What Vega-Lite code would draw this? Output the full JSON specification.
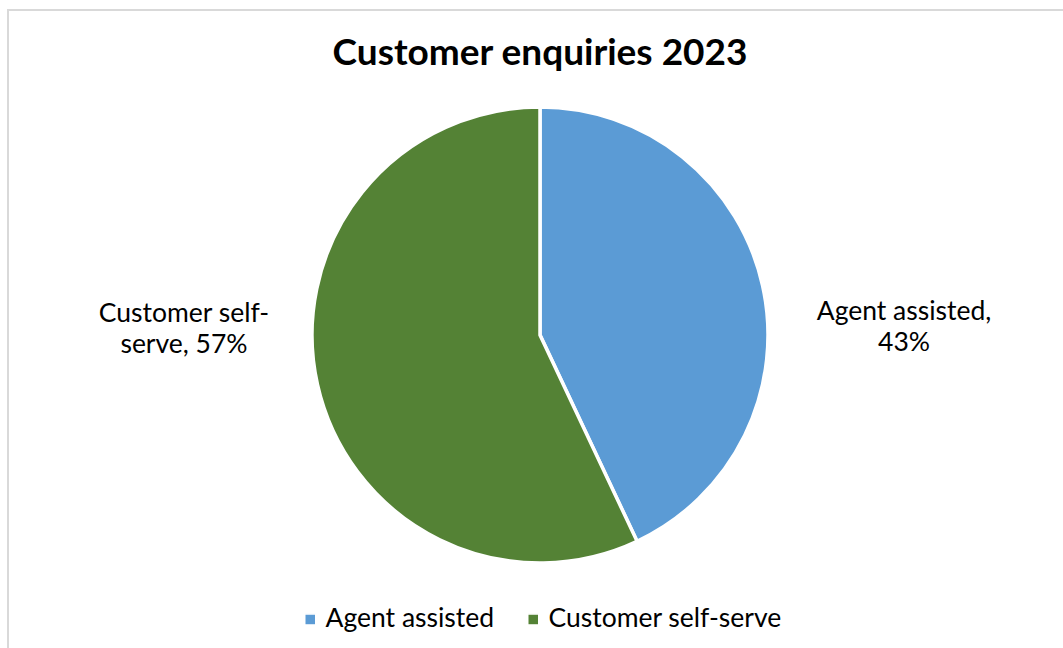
{
  "$schema": "https://vega.github.io/schema/vega-lite/v6.json",
  "autosize": "none",
  "width": 1064,
  "height": 650,
  "padding": {"left": 8, "top": 10, "right": 0, "bottom": 0},
  "background": "white",
  "title": {
    "text": "Customer enquiries 2023",
    "font": "Lato",
    "fontSize": 37,
    "fontWeight": "bold",
    "color": "#000000",
    "anchor": "middle",
    "dy": 68
  },
  "data": {
    "values": [
      {"category": "Agent assisted", "share": 43, "order": 1, "label": "Agent assisted,\n43%"},
      {"category": "Customer self-serve", "share": 57, "order": 2, "label": "Customer self-\nserve, 57%"}
    ]
  },
  "layer": [
    {
      "mark": {"type": "rect", "fill": "transparent", "stroke": "#d9d9d9", "strokeWidth": 2},
      "encoding": {}
    },
    {
      "mark": {"type": "arc", "outerRadius": 228, "stroke": "white", "strokeWidth": 3.5},
      "encoding": {
        "theta": {"field": "share", "type": "quantitative", "stack": true},
        "order": {"field": "order", "type": "ordinal"},
        "color": {
          "field": "category",
          "type": "nominal",
          "scale": {"domain": ["Agent assisted", "Customer self-serve"], "range": ["#5B9BD5", "#548235"]},
          "legend": {
            "title": null,
            "orient": "none",
            "legendX": 289,
            "legendY": 596,
            "direction": "horizontal",
            "symbolType": "square",
            "symbolSize": 121,
            "labelFont": "Lato",
            "labelFontSize": 26.5,
            "labelColor": "#000000",
            "labelOffset": 2,
            "columnPadding": 25,
            "labelLimit": 400
          }
        }
      }
    },
    {
      "mark": {
        "type": "text",
        "radius": 360,
        "font": "Lato",
        "fontSize": 26.5,
        "color": "#000000",
        "align": "center",
        "baseline": "middle",
        "lineBreak": "\n",
        "lineHeight": 31,
        "dx": 4,
        "dy": -22
      },
      "encoding": {
        "theta": {"field": "share", "type": "quantitative", "stack": true, "scale": {"range": [0.218, 6.501]}},
        "order": {"field": "order", "type": "ordinal"},
        "text": {"field": "label"}
      }
    }
  ],
  "resolve": {"scale": {"theta": "independent"}},
  "config": {
    "view": {"stroke": null}
  }
}
